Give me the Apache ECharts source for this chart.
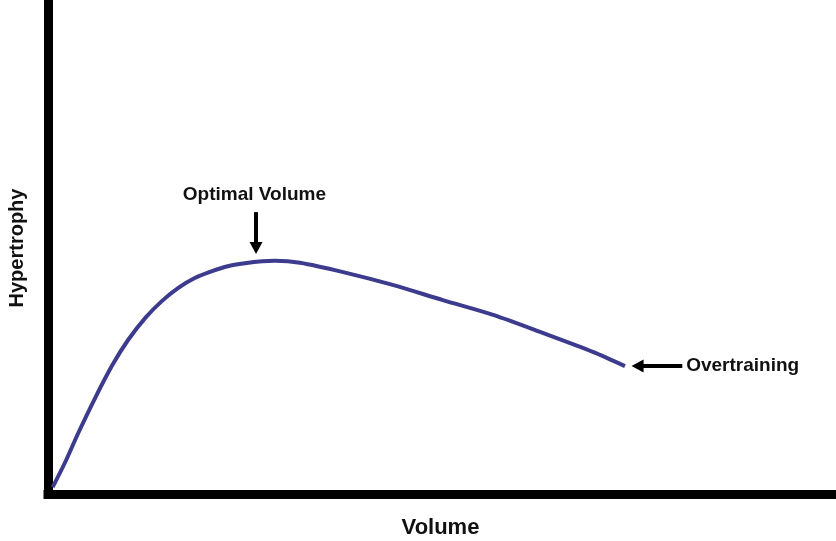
<!DOCTYPE html>
<html>
<head>
<meta charset="utf-8">
<script src="https://cdn.jsdelivr.net/npm/echarts@6/dist/echarts.min.js"></script>
<style>html,body{margin:0;padding:0;background:#fff}#c{width:836px;height:541px}</style>
</head>
<body>
<div id="c"></div>
<script>
// Curve (volume vs hypertrophy)
const volume = [0.6, 2.2, 3.8, 6.0, 8.2, 10.2, 12.4, 14.5, 16.6, 18.7, 20.9, 22.9, 25.1, 27.3, 28.9, 32.1, 37.6, 43.9, 50.3, 56.7, 63.1, 69.4, 73.5];
const hypertrophy = [1.4, 6.5, 12.2, 19.5, 26.2, 31.3, 35.8, 39.2, 41.9, 43.9, 45.3, 46.3, 46.9, 47.3, 47.4, 47.0, 45.1, 42.5, 39.4, 36.4, 32.7, 28.9, 26.0];

// Annotations (label, arrow start, arrow end, label anchor)
const optimalLabel = "Optimal Volume";
const optimalArrow = [[26.5, 57.3], [26.5, 50.0]];
const optimalText = [26.3, 60.8];
const overLabel = "Overtraining";
const overArrow = [[80.8, 26.0], [75.1, 26.0]];
const overText = [81.3, 26.0];

const axisNames = { x: "Volume", y: "Hypertrophy" };

const chart = echarts.init(document.getElementById('c'));
const font = 'Liberation Sans, Arial, sans-serif';
const txt = { fontFamily: font, fontWeight: 'bold', fontSize: 19, color: '#111' };
chart.setOption({
  animation: false,
  backgroundColor: '#fff',
  grid: { left: 48, right: 3, top: 2, bottom: 47, containLabel: false, outerBoundsMode: 'none' },
  xAxis: {
    type: 'value', min: 0, max: 100,
    name: axisNames.x, nameLocation: 'middle', nameGap: 23,
    nameTextStyle: Object.assign({}, txt, { fontSize: 22 }),
    axisLine: { show: true, lineStyle: { color: '#000', width: 9, cap: 'square' } },
    axisTick: { show: false }, axisLabel: { show: false }, splitLine: { show: false }
  },
  yAxis: {
    type: 'value', min: 0, max: 100,
    name: axisNames.y, nameLocation: 'middle', nameGap: 21, nameRotate: 90,
    nameTextStyle: Object.assign({}, txt, { fontSize: 20 }),
    axisLine: { show: true, lineStyle: { color: '#000', width: 9, cap: 'square' } },
    axisTick: { show: false }, axisLabel: { show: false }, splitLine: { show: false }
  },
  series: [
    {
      type: 'line',
      data: volume.map((v, i) => [v, hypertrophy[i]]),
      smooth: 0.3,
      showSymbol: false,
      lineStyle: { color: '#3c3b8d', width: 4 },
      silent: true
    },
    {
      type: 'scatter',
      silent: true,
      symbolSize: 0,
      itemStyle: { opacity: 1 },
      data: [
        { value: optimalText, label: Object.assign({ show: true, formatter: optimalLabel, position: 'inside' }, txt) },
        { value: overText, label: Object.assign({ show: true, formatter: overLabel, position: 'right', distance: 0 }, txt) }
      ],
      markLine: {
        silent: true,
        symbol: ['none', 'triangle'],
        symbolSize: [13, 12],
        lineStyle: { color: '#000', width: 4, type: 'solid', opacity: 1 },
        label: { show: false },
        data: [
          [{ coord: optimalArrow[0] }, { coord: optimalArrow[1] }],
          [{ coord: overArrow[0] }, { coord: overArrow[1] }]
        ]
      }
    }
  ]
});
</script>
</body>
</html>
